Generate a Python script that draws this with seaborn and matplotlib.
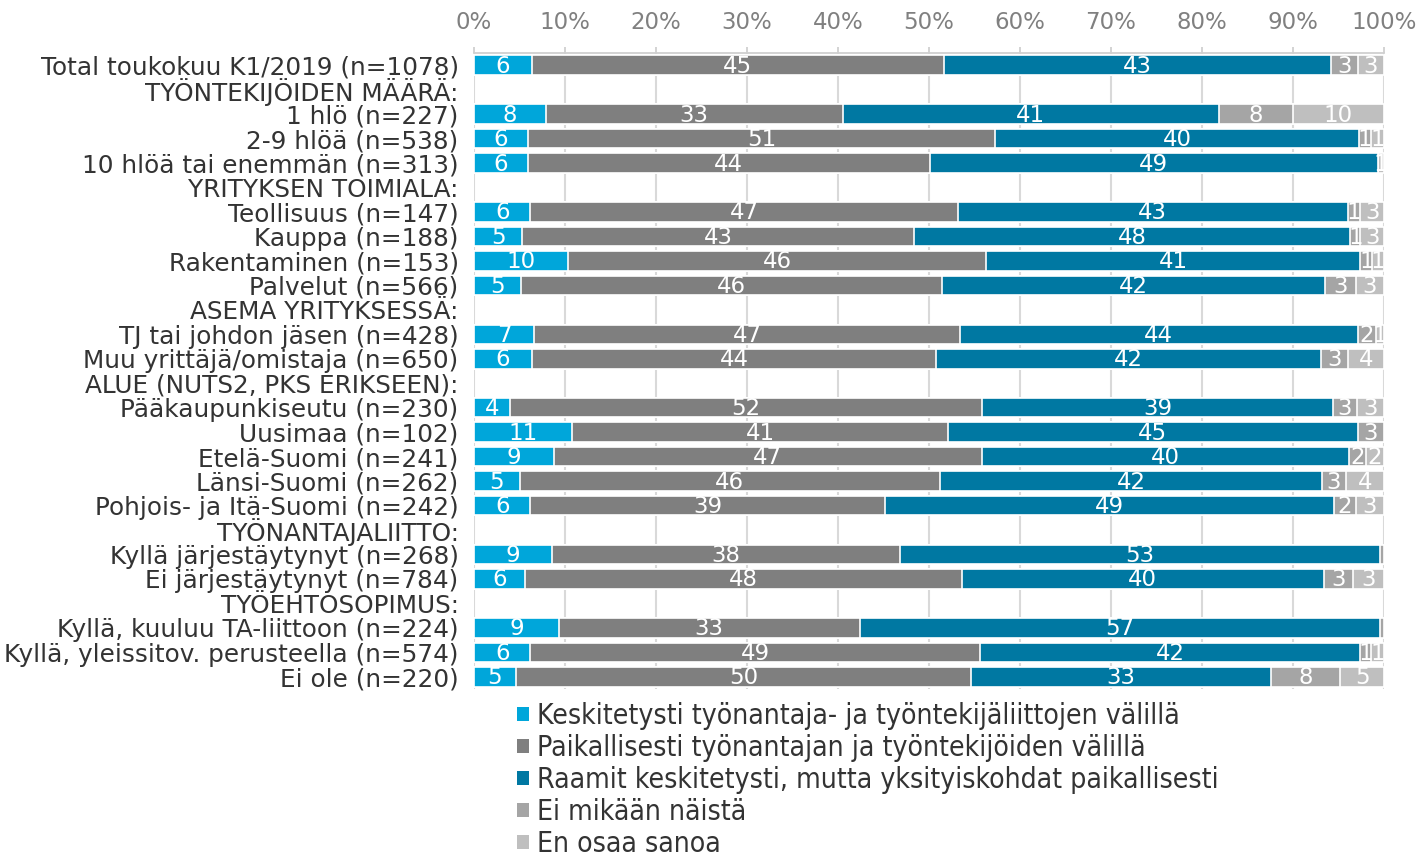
import numpy as np
import pandas as pd
import seaborn as sns
import matplotlib.pyplot as plt
from matplotlib.patches import Patch

# Rows of the chart, top to bottom (headers have no values)
labels = [
    "Total toukokuu K1/2019 (n=1078)",
    "TYÖNTEKIJÖIDEN MÄÄRÄ:",
    "1 hlö (n=227)",
    "2-9 hlöä (n=538)",
    "10 hlöä tai enemmän (n=313)",
    "YRITYKSEN TOIMIALA:",
    "Teollisuus (n=147)",
    "Kauppa (n=188)",
    "Rakentaminen (n=153)",
    "Palvelut (n=566)",
    "ASEMA YRITYKSESSÄ:",
    "TJ tai johdon jäsen (n=428)",
    "Muu yrittäjä/omistaja (n=650)",
    "ALUE (NUTS2, PKS ERIKSEEN):",
    "Pääkaupunkiseutu (n=230)",
    "Uusimaa (n=102)",
    "Etelä-Suomi (n=241)",
    "Länsi-Suomi (n=262)",
    "Pohjois- ja Itä-Suomi (n=242)",
    "TYÖNANTAJALIITTO:",
    "Kyllä järjestäytynyt (n=268)",
    "Ei järjestäytynyt (n=784)",
    "TYÖEHTOSOPIMUS:",
    "Kyllä, kuuluu TA-liittoon (n=224)",
    "Kyllä, yleissitov. perusteella (n=574)",
    "Ei ole (n=220)",
]

nan = np.nan
keskitetysti = [6.4, nan, 7.9, 5.9, 5.9, nan, 6.2, 5.3, 10.3, 5.2, nan, 6.6, 6.4, nan,
                4.0, 10.8, 8.8, 5.0, 6.2, nan, 8.6, 5.6, nan, 9.3, 6.2, 4.6]
paikallisesti = [45.2, nan, 32.6, 51.4, 44.2, nan, 47.0, 43.0, 46.0, 46.2, nan, 46.8, 44.4, nan,
                 51.8, 41.3, 47.0, 46.2, 39.0, nan, 38.2, 48.0, nan, 33.1, 49.4, 50.0]
raamit = [42.6, nan, 41.4, 39.9, 49.2, nan, 42.8, 48.0, 41.1, 42.1, nan, 43.7, 42.3, nan,
          38.6, 45.0, 40.3, 42.0, 49.3, nan, 52.8, 39.8, nan, 57.2, 41.8, 33.0]
ei_mikaan = [2.9, nan, 8.1, 1.4, 0.0, nan, 1.4, 1.1, 1.3, 3.4, nan, 2.0, 2.9, nan,
             2.6, 2.9, 1.9, 2.6, 2.4, nan, 0.4, 3.2, nan, 0.4, 1.2, 7.6]
en_osaa = [2.9, nan, 10.0, 1.4, 0.7, nan, 2.6, 2.6, 1.3, 3.1, nan, 0.9, 4.0, nan,
           3.0, 0.0, 2.0, 4.2, 3.1, nan, 0.0, 3.4, nan, 0.0, 1.4, 4.8]

series = [
    "Keskitetysti työnantaja- ja työntekijäliittojen välillä",
    "Paikallisesti työnantajan ja työntekijöiden välillä",
    "Raamit keskitetysti, mutta yksityiskohdat paikallisesti",
    "Ei mikään näistä",
    "En osaa sanoa",
]
colors = ["#00A6DA", "#7F7F7F", "#0078A2", "#A5A5A5", "#BFBFBF"]

df = pd.DataFrame({
    "label": labels,
    series[0]: keskitetysti,
    series[1]: paikallisesti,
    series[2]: raamit,
    series[3]: ei_mikaan,
    series[4]: en_osaa,
})
vals = df[series]
cum = vals.cumsum(axis=1)

sns.set_style("white")
plt.rcParams['font.family'] = ['DejaVu Sans']

fig = plt.figure(figsize=(14.22, 8.58), dpi=100)
ax = fig.add_axes([474 / 1422, 1 - 689 / 858, 910 / 1422, 636 / 858])

# stacked bars: draw cumulative totals from the right-most series backwards
plot_df = pd.concat([df[["label"]], cum], axis=1).dropna()
for name, col in reversed(list(zip(series, colors))):
    sns.barplot(data=plot_df, x=name, y="label", order=labels, color=col,
                saturation=1, width=0.8, edgecolor="white", linewidth=1.2,
                errorbar=None, orient="h", ax=ax, zorder=3)

# value labels
for i in range(len(labels)):
    if np.isnan(vals.iloc[i, 0]):
        continue
    for j, name in enumerate(series):
        v = vals.iloc[i, j]
        if v < 0.5:
            continue
        ax.text(cum.iloc[i, j] - v / 2, i + 0.04, f"{v:.0f}", ha="center", va="center",
                color="white", fontsize=16.5, zorder=4)

ax.set_xlim(0, 100)
ax.set_ylim(len(labels) - 0.5, -0.5)
ax.set_xticks(np.arange(0, 101, 10))
ax.set_xticklabels([f"{t}%" for t in range(0, 101, 10)])
ax.xaxis.tick_top()
ax.tick_params(axis="x", colors="#D0D0D0", labelcolor="#808080", labelsize=16.5,
               length=4.5, width=1.3, pad=9, top=True, bottom=False)
ax.tick_params(axis="y", length=0, pad=11, labelsize=17.8, labelcolor="#333333")
ax.set_xlabel("")
ax.set_ylabel("")
ax.grid(axis="x", color="#D9D9D9", linewidth=1.5, zorder=0)
ax.set_axisbelow(True)
for s in ["left", "right", "bottom"]:
    ax.spines[s].set_visible(False)
ax.spines["top"].set_color("#D0D0D0")
ax.spines["top"].set_linewidth(1.3)

handles = [Patch(facecolor=c, edgecolor="none") for c in colors]
fig.legend(handles, series, loc="upper left", bbox_to_anchor=(506 / 1422, 1 - 691 / 858),
           frameon=False, handlelength=0.4, handleheight=0.4, handletextpad=0.3,
           labelspacing=0.14, borderaxespad=0,
           prop={"family": "DejaVu Sans", "stretch": "condensed", "size": 20.3},
           labelcolor="#333333")

fig.savefig("out.png", dpi=100)
